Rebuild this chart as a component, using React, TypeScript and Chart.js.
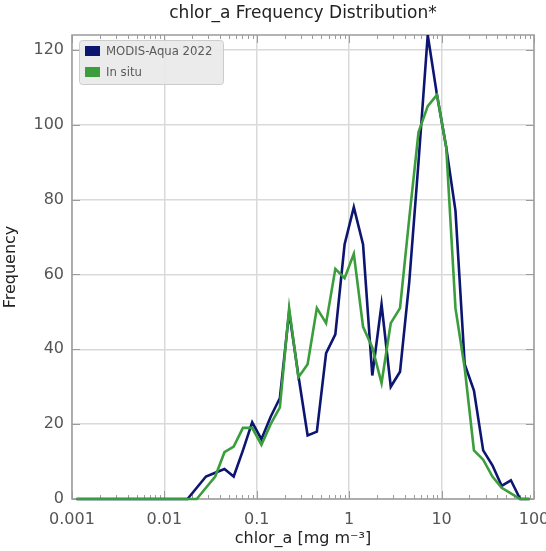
import React, { useEffect, useRef } from 'react';
import { Chart, registerables } from 'chart.js';

Chart.register(...registerables);

// Log-spaced histogram bin centres (mg m^-3)
const binCenters = [
  0.001122, 0.001413, 0.001778, 0.002239, 0.002818, 0.003548, 0.004467, 0.005623, 0.007079, 0.008913,
  0.01122, 0.01413, 0.01778, 0.02239, 0.02818, 0.03548, 0.04467, 0.05623, 0.07079, 0.08913,
  0.1122, 0.1413, 0.1778, 0.2239, 0.2818, 0.3548, 0.4467, 0.5623, 0.7079, 0.8913,
  1.122, 1.413, 1.778, 2.239, 2.818, 3.548, 4.467, 5.623, 7.079, 8.913,
  11.22, 14.13, 17.78, 22.39, 28.18, 35.48, 44.67, 56.23, 70.79, 89.13,
];

const modisCounts = [
  0, 0, 0, 0, 0, 0, 0, 0, 0, 0,
  0, 0, 0, 3, 6, 7, 8, 6, 13, 20.5,
  16, 22, 27, 50, 33, 17, 18, 39, 44, 68,
  78, 68, 33, 52, 30, 34, 58, 90, 124, 108,
  94, 77, 36, 29, 13, 9, 3.5, 5, 0, 0,
];

const inSituCounts = [
  0, 0, 0, 0, 0, 0, 0, 0, 0, 0,
  0, 0, 0, 0, 3, 6, 12.5, 14, 19, 19,
  14.5, 20, 24.5, 51, 32.5, 36, 51, 47, 61.5, 59,
  65.5, 46, 40.5, 31, 47, 51, 75, 98, 105, 108,
  94, 51, 35, 13, 10.5, 6, 3, 1.5, 0, 0,
];

const seriesNames = ['MODIS-Aqua 2022', 'In situ'];
const seriesColors = ['#0c1670', '#3c9d3c'];
const xDecadeTicks = [0.001, 0.01, 0.1, 1, 10, 100];
const xMinorMultipliers = [2, 3, 4, 5, 6, 7, 8, 9];
const yTicks = [0, 20, 40, 60, 80, 100, 120];

const FONT = 'DejaVu Sans';

const frameTicksPlugin = {
  id: 'frameTicks',
  beforeDatasetsDraw(chart: any) {
    const { ctx, chartArea: a, scales } = chart;
    const xs = scales.x;
    const ys = scales.y;
    ctx.save();
    ctx.strokeStyle = '#9c9c9c';
    ctx.lineWidth = 1;
    const seg = (x1: number, y1: number, x2: number, y2: number) => {
      ctx.beginPath();
      ctx.moveTo(x1, y1);
      ctx.lineTo(x2, y2);
      ctx.stroke();
    };
    for (const d of xDecadeTicks) {
      for (const m of xMinorMultipliers) {
        const v = d * m;
        if (v > xs.max) continue;
        const px = Math.round(xs.getPixelForValue(v)) + 0.5;
        seg(px, a.bottom, px, a.bottom - 4);
        seg(px, a.top, px, a.top + 4);
      }
      const px = Math.round(xs.getPixelForValue(d)) + 0.5;
      seg(px, a.bottom, px, a.bottom - 8);
      seg(px, a.top, px, a.top + 8);
    }
    for (const v of yTicks) {
      const py = Math.round(ys.getPixelForValue(v)) + 0.5;
      seg(a.left, py, a.left + 8, py);
      seg(a.right, py, a.right - 8, py);
    }
    ctx.lineWidth = 1.5;
    ctx.strokeRect(a.left, a.top, a.right - a.left, a.bottom - a.top);
    ctx.restore();
  },
};

const boxLegendPlugin = {
  id: 'boxLegend',
  afterDatasetsDraw(chart: any) {
    const { ctx, chartArea: a } = chart;
    const bx = a.left + 7;
    const by = a.top + 5;
    const bw = 144;
    const bh = 44;
    ctx.save();
    ctx.fillStyle = 'rgba(234,234,234,0.95)';
    ctx.strokeStyle = '#cccccc';
    ctx.lineWidth = 1;
    ctx.beginPath();
    ctx.roundRect(bx + 0.5, by + 0.5, bw, bh, 3);
    ctx.fill();
    ctx.stroke();
    ctx.font = `13px "DejaVu Sans Condensed", "${FONT}"`;
    ctx.textBaseline = 'middle';
    chart.data.datasets.forEach((ds: any, i: number) => {
      const cy = by + 11 + i * 21;
      ctx.fillStyle = ds.borderColor;
      ctx.fillRect(bx + 6, cy - 5, 15, 10);
      ctx.fillStyle = '#5a5a5a';
      ctx.fillText(ds.label, bx + 27, cy + 0.5);
    });
    ctx.restore();
  },
};

export default function App() {
  const canvasRef = useRef<HTMLCanvasElement | null>(null);

  useEffect(() => {
    if (!canvasRef.current) return;
    Chart.defaults.font.family = FONT;
    const clip = { left: 3, right: 3, top: 0, bottom: 3 };
    const chart = new Chart(canvasRef.current, {
      type: 'line',
      data: {
        datasets: [
          {
            label: seriesNames[0],
            data: binCenters.map((x, i) => ({ x, y: modisCounts[i] })),
            borderColor: seriesColors[0],
            backgroundColor: seriesColors[0],
            borderWidth: 2.6,
            pointRadius: 0,
            tension: 0,
            order: 1,
            clip,
          },
          {
            label: seriesNames[1],
            data: binCenters.map((x, i) => ({ x, y: inSituCounts[i] })),
            borderColor: seriesColors[1],
            backgroundColor: seriesColors[1],
            borderWidth: 2.6,
            pointRadius: 0,
            tension: 0,
            order: 0,
            clip,
          },
        ],
      },
      options: {
        animation: false,
        responsive: false,
        devicePixelRatio: 1,
        layout: { padding: { left: 0, right: 12, top: 0, bottom: 0 } },
        plugins: {
          legend: { display: false },
          tooltip: { enabled: false },
          title: {
            display: true,
            text: 'chlor_a Frequency Distribution*',
            fullSize: false,
            color: '#222222',
            font: { family: FONT, size: 17, weight: 'normal' },
            padding: { top: 3, bottom: 11.6 },
          },
        },
        scales: {
          x: {
            type: 'logarithmic',
            min: 0.001,
            max: 100,
            afterBuildTicks: (s: any) => {
              s.ticks = xDecadeTicks.map((v) => ({ value: v }));
            },
            afterFit: (s: any) => {
              s.height = 52;
              s.paddingLeft = 0;
              s.paddingRight = 0;
            },
            ticks: {
              autoSkip: false,
              maxRotation: 0,
              color: '#555555',
              font: { family: FONT, size: 16 },
              padding: 11,
              callback: (v: any) => String(v),
            },
            grid: { color: '#d9d9d9', lineWidth: 1.5, drawTicks: false },
            border: { display: false },
            title: {
              display: true,
              text: 'chlor_a [mg m⁻³]',
              color: '#222222',
              font: { family: FONT, size: 16 },
              padding: { top: 0, bottom: 3 },
            },
          },
          y: {
            type: 'linear',
            min: 0,
            max: 124,
            afterBuildTicks: (s: any) => {
              s.ticks = yTicks.map((v) => ({ value: v }));
            },
            afterFit: (s: any) => {
              s.width = 72;
              s.paddingTop = 0;
              s.paddingBottom = 0;
            },
            ticks: {
              color: '#555555',
              font: { family: FONT, size: 16 },
              padding: 8,
            },
            grid: { color: '#d9d9d9', lineWidth: 1.5, drawTicks: false },
            border: { display: false },
            title: {
              display: true,
              text: 'Frequency',
              color: '#222222',
              font: { family: FONT, size: 16 },
              padding: { top: 1, bottom: 0 },
            },
          },
        },
      } as any,
      plugins: [frameTicksPlugin, boxLegendPlugin],
    });
    return () => chart.destroy();
  }, []);

  return (
    <div style={{ position: 'fixed', left: 0, top: 0, width: 546, height: 551, background: '#ffffff' }}>
      <canvas ref={canvasRef} width={546} height={551} style={{ display: 'block', width: 546, height: 551 }} />
    </div>
  );
}
